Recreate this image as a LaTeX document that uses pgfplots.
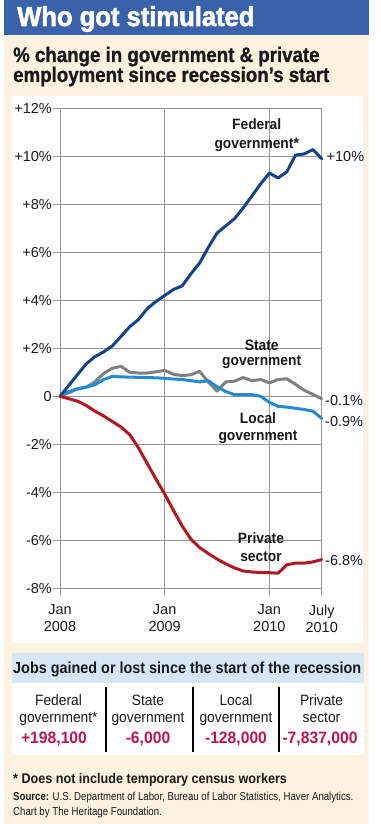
\documentclass[border=0pt]{standalone}
\usepackage{pgfplots}
\pgfplotsset{compat=1.18}
\usepackage{pgfplotstable}
\usepackage{fontspec}
\setmainfont{Liberation Sans}
\newfontfamily\fR{Liberation Sans}
\newfontfamily\fT{Liberation Sans}[FakeStretch=0.95]
\newfontfamily\fTT{Liberation Sans}[FakeStretch=0.93, FakeBold=2]
\newfontfamily\fSub{Liberation Sans}[FakeStretch=0.89, FakeBold=1]
\newfontfamily\fN{Liberation Sans}[FakeStretch=0.92]
\newfontfamily\fH{Liberation Sans}[FakeStretch=0.9]
\newfontfamily\fS{Liberation Sans}[FakeStretch=0.84]
\definecolor{cream}{RGB}{251,243,223}
\definecolor{titleblue}{RGB}{58,98,170}
\definecolor{bandblue}{RGB}{214,230,245}
\definecolor{fedc}{RGB}{22,66,138}
\definecolor{locc}{RGB}{38,138,210}
\definecolor{statec}{RGB}{128,128,128}
\definecolor{privc}{RGB}{178,24,36}
\definecolor{numc}{RGB}{190,20,80}
\definecolor{ink}{RGB}{26,26,26}
\definecolor{gridc}{RGB}{150,150,150}

\pgfplotstableread{
m v
0 0
1 0.45
2 0.9
3 1.35
4 1.65
5 1.85
6 2.1
7 2.5
8 2.9
9 3.2
10 3.65
11 3.95
12 4.2
13 4.45
14 4.6
15 5.1
16 5.55
17 6.2
18 6.8
19 7.1
20 7.4
21 7.85
22 8.35
23 8.85
24 9.3
25 9.1
26 9.35
27 10.05
28 10.1
29 10.28
30 9.9
}\fedtab
\pgfplotstableread{
m v
0 0
1 0.15
2 0.3
3 0.38
4 0.6
5 0.95
6 1.17
7 1.25
8 1.0
9 0.97
10 0.97
11 1.02
12 1.08
13 0.92
14 0.86
15 0.9
16 1.04
17 0.6
18 0.22
19 0.6
20 0.63
21 0.78
22 0.65
23 0.7
24 0.56
25 0.7
26 0.73
27 0.5
28 0.25
29 0.08
30 -0.1
}\statetab
\pgfplotstableread{
m v
0 0
1 0.2
2 0.32
3 0.38
4 0.48
5 0.7
6 0.83
7 0.81
8 0.8
9 0.79
10 0.78
11 0.77
12 0.75
13 0.72
14 0.7
15 0.65
16 0.6
17 0.65
18 0.4
19 0.2
20 0.07
21 0.07
22 0.07
23 0.0
24 -0.25
25 -0.42
26 -0.45
27 -0.5
28 -0.55
29 -0.62
30 -0.92
}\loctab
\pgfplotstableread{
m v
0 0
1 -0.1
2 -0.2
3 -0.38
4 -0.62
5 -0.82
6 -1.05
7 -1.28
8 -1.6
9 -2.15
10 -2.8
11 -3.45
12 -4.07
13 -4.75
14 -5.4
15 -5.95
16 -6.3
17 -6.55
18 -6.78
19 -6.98
20 -7.15
21 -7.28
22 -7.32
23 -7.34
24 -7.35
25 -7.37
26 -7.02
27 -6.95
28 -6.95
29 -6.9
30 -6.8
}\privtab

\begin{document}
\begin{tikzpicture}
\useasboundingbox (0pt,0pt) rectangle (380pt,-824pt);
\fill[white] (0pt,0pt) rectangle (380pt,-824pt);
\fill[cream] (4pt,0pt) rectangle (369pt,-824pt);
\fill[titleblue] (4pt,0pt) rectangle (369pt,-35pt);
\fill[white] (12pt,-96pt) rectangle (363pt,-643pt);
\fill[bandblue] (12pt,-653pt) rectangle (364pt,-683pt);
\fill[white] (12pt,-683pt) rectangle (364pt,-755pt);

\node[anchor=base west, inner sep=0pt, text=white, font=\fontsize{27.5}{30}\fTT\bfseries] at (17pt,-26pt) {Who got stimulated};
\node[anchor=base west, inner sep=0pt, text=ink, font=\fontsize{21}{24}\fSub\bfseries] at (13pt,-62pt) {\% change in government \& private};
\node[anchor=base west, inner sep=0pt, text=ink, font=\fontsize{21}{24}\fSub\bfseries] at (13pt,-82pt) {employment since recession’s start};

\begin{axis}[
  at={(60pt,-588.3pt)}, anchor=south west,
  scale only axis, width=261.7pt, height=480pt,
  xmin=0, xmax=30, ymin=-8, ymax=12,
  xtick={0,12,24,30},
  xticklabels={Jan\\2008, Jan\\2009, Jan\\2010, July\\2010},
  ytick={-8,-6,-4,-2,0,2,4,6,8,10,12},
  yticklabels={-8\%,-6\%,-4\%,-2\%,0,+2\%,+4\%,+6\%,+8\%,+10\%,+12\%},
  tick pos=left, tick align=outside, major tick length=7pt,
  grid=major,
  major grid style={gridc, line width=0.8pt},
  axis line style={gridc, line width=0.8pt},
  tick style={gridc, line width=0.8pt},
  yticklabel style={font=\fontsize{14.5}{17}\fR, text=ink, inner sep=0pt, xshift=-1pt},
  xticklabel style={font=\fontsize{14.5}{17}\fR, text=ink, align=center, inner sep=0pt, yshift=-9pt},
  clip=false,
  line join=round, line cap=round,
]
\addplot[statec, line width=3pt] table[x=m,y=v] {\statetab};
\addplot[locc, line width=3pt] table[x=m,y=v] {\loctab};
\addplot[fedc, line width=3pt] table[x=m,y=v] {\fedtab};
\addplot[privc, line width=3pt] table[x=m,y=v] {\privtab};
\end{axis}

\begin{scope}[every node/.style={inner sep=0pt, text=ink, font=\fontsize{15}{17}\fN\bfseries}]
\node[anchor=base] at (256.7pt,-130pt) {Federal};
\node[anchor=base] at (256.7pt,-148pt) {government*};
\node[anchor=base] at (261.7pt,-350pt) {State};
\node[anchor=base] at (261.7pt,-365pt) {government};
\node[anchor=base] at (258pt,-423pt) {Local};
\node[anchor=base] at (258pt,-440pt) {government};
\node[anchor=base] at (261pt,-543pt) {Private};
\node[anchor=base] at (261pt,-561pt) {sector};
\end{scope}
\begin{scope}[every node/.style={inner sep=0pt, text=ink, font=\fontsize{14.5}{17}\fR, anchor=base west}]
\node at (326.5pt,-161.7pt) {+10\%};
\node at (325pt,-405pt) {-0.1\%};
\node at (325pt,-426.5pt) {-0.9\%};
\node at (325pt,-565pt) {-6.8\%};
\end{scope}

\node[anchor=base west, inner sep=0pt, text=ink, font=\fontsize{16}{18}\fH\bfseries] at (13pt,-673pt) {Jobs gained or lost since the start of the recession};

\draw[black, line width=2pt] (105.5pt,-687pt) -- (105.5pt,-752pt);
\draw[black, line width=2pt] (192.5pt,-687pt) -- (192.5pt,-752pt);
\draw[black, line width=2pt] (279pt,-687pt) -- (279pt,-752pt);

\begin{scope}[every node/.style={inner sep=0pt, text=ink, font=\fontsize{15}{17}\fN, anchor=base}]
\node at (58.5pt,-705pt) {Federal};
\node at (58.5pt,-722pt) {government*};
\node at (148pt,-705pt) {State};
\node at (148pt,-722pt) {government};
\node at (236pt,-705pt) {Local};
\node at (236pt,-722pt) {government};
\node at (321.5pt,-705pt) {Private};
\node at (321.5pt,-722pt) {sector};
\end{scope}
\begin{scope}[every node/.style={inner sep=0pt, text=numc, font=\fontsize{16.5}{18}\fT\bfseries, anchor=base}]
\node at (54pt,-743pt) {+198,100};
\node at (148pt,-743pt) {-6,000};
\node at (236pt,-743pt) {-128,000};
\node at (320pt,-743pt) {-7,837,000};
\end{scope}

\node[anchor=base west, inner sep=0pt, text=ink, font=\fontsize{14}{16}\fH\bfseries] at (13pt,-783pt) {* Does not include temporary census workers};
\node[anchor=base west, inner sep=0pt, text=ink, font=\fontsize{11.5}{13}\fS] at (13pt,-800pt) {\textbf{Source:} U.S. Department of Labor, Bureau of Labor Statistics, Haver Analytics.};
\node[anchor=base west, inner sep=0pt, text=ink, font=\fontsize{11.5}{13}\fS] at (13pt,-815pt) {Chart by The Heritage Foundation.};
\end{tikzpicture}
\end{document}
